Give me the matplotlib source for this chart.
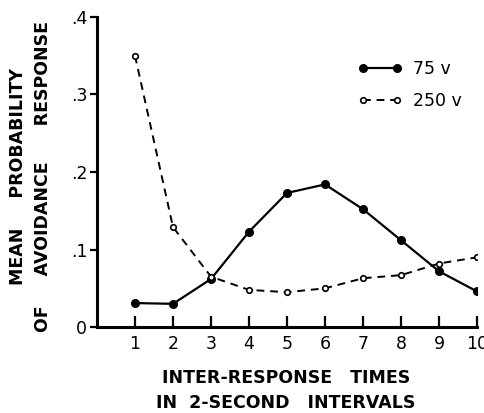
import numpy as np
import matplotlib.pyplot as plt

# inter-response time bins (2-second intervals)
intervals = [1, 2, 3, 4, 5, 6, 7, 8, 9, 10]
# mean probability of avoidance response
v75 = [0.031, 0.030, 0.062, 0.123, 0.173, 0.184, 0.152, 0.112, 0.072, 0.046]
v250 = [0.350, 0.129, 0.065, 0.048, 0.045, 0.050, 0.063, 0.067, 0.082, 0.090]
yticks = [0, 0.1, 0.2, 0.3, 0.4]
ytick_labels = ["0", ".1", ".2", ".3", ".4"]

plt.rcParams['font.family'] = ['DejaVu Sans']

fig = plt.figure(figsize=(4.85, 4.13), dpi=100)
ax = fig.add_axes([0.2, 0.208, 0.7835, 0.751])

ax.plot(intervals, v75, '-', color='black', lw=1.6, marker='o', ms=5.5,
        label='75 v')
ax.plot(intervals, v250, '--', color='black', lw=1.4, dashes=(4, 3),
        marker='o', ms=4, mfc='white', mec='black', mew=1.2, label='250 v')

ax.set_xlim(0, 10)
ax.set_ylim(0, 0.4)
ax.set_xticks(intervals)
ax.set_xticklabels([str(i) for i in intervals], fontsize=12.5)
ax.set_yticks(yticks)
ax.set_yticklabels(ytick_labels, fontsize=12.5)

for s in ['top', 'right']:
    ax.spines[s].set_visible(False)
for s in ['left', 'bottom']:
    ax.spines[s].set_linewidth(2.2)

ax.tick_params(axis='x', direction='in', length=8, width=1.6, pad=6)
ax.tick_params(axis='y', direction='out', length=5, width=1.6, pad=2)

# two-line rotated y label, wide word gaps like the original lettering
ax.text(-0.207, 0.486, "MEAN     PROBABILITY", transform=ax.transAxes,
        rotation=90, fontsize=12.5, fontweight='bold', ha='center', va='center')
ax.text(-0.141, 0.486, "OF     AVOIDANCE      RESPONSE", transform=ax.transAxes,
        rotation=90, fontsize=12.5, fontweight='bold', ha='center', va='center')

fig.text(0.59, 0.084, "INTER-RESPONSE   TIMES", fontsize=12.5,
         fontweight='bold', ha='center', va='center')
fig.text(0.59, 0.024, "IN  2-SECOND   INTERVALS", fontsize=12.5,
         fontweight='bold', ha='center', va='center')

leg = ax.legend(loc='upper left', bbox_to_anchor=(0.644, 0.912), frameon=False,
                numpoints=2, handlelength=2.6, handletextpad=0.6,
                labelspacing=0.8, prop={'size': 12.5})

fig.savefig("out.png", dpi=100)
